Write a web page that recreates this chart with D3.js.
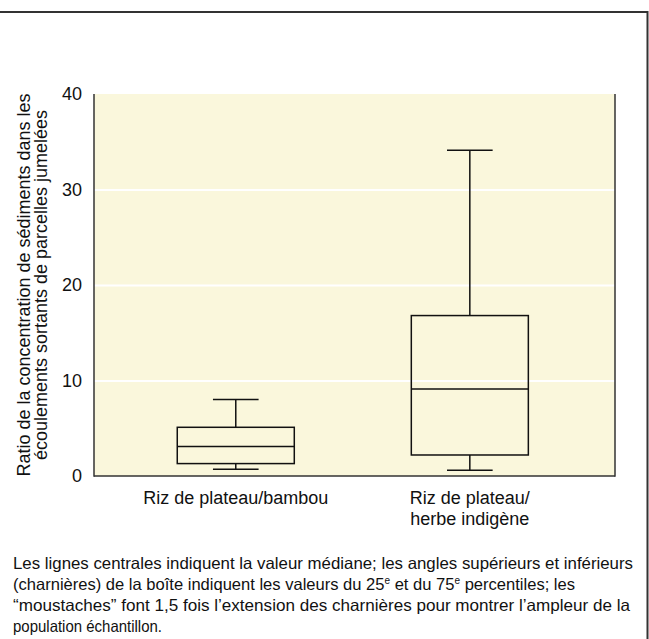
<!DOCTYPE html>
<html>
<head>
<meta charset="utf-8">
<script src="https://cdn.jsdelivr.net/npm/d3@7"></script>
<style>
  html, body { margin: 0; padding: 0; background: #fff; }
  svg { display: block; }
  text { font-family: "Liberation Sans", Arial, Helvetica, sans-serif; fill: #111; }
</style>
</head>
<body>
<svg id="chart" width="649" height="639"></svg>
<script>
// ---- data ----
const categories = ["Riz de plateau/bambou", "Riz de plateau/herbe indigène"];
const categoryLabelLines = [["Riz de plateau/bambou"], ["Riz de plateau/", "herbe indigène"]];
const whiskerLow  = [0.7, 0.6];
const q1          = [1.3, 2.2];
const median      = [3.1, 9.1];
const q3          = [5.1, 16.8];
const whiskerHigh = [8.0, 34.1];
const yTicks = [0, 10, 20, 30, 40];
const yLabelLines = ["Ratio de la concentration de sédiments dans les", "écoulements sortants de parcelles jumelées"];
const captionLines = [
  [["Les lignes centrales indiquent la valeur médiane; les angles supérieurs et inférieurs", false]],
  [["(charnières) de la boîte indiquent les valeurs du 25", false], ["e", true], [" et du 75", false], ["e", true], [" percentiles; les", false]],
  [["“moustaches” font 1,5 fois l’extension des charnières pour montrer l’ampleur de la", false]],
  [["population échantillon.", false]]
];

// ---- layout ----
const svg = d3.select("#chart");
const pLeft = 94, pRight = 615, pTop = 94, pBottom = 476;

const x = d3.scaleBand().domain(categories).range([pLeft, pRight]).paddingInner(0.5).paddingOuter(0.363).align(0.49);
const y = d3.scaleLinear().domain([0, 40]).range([pBottom, pTop]);

// frame
svg.append("line").attr("x1", 0).attr("x2", 648).attr("y1", 12).attr("y2", 12)
  .attr("stroke", "#333").attr("stroke-width", 2);
svg.append("line").attr("x1", 647.5).attr("x2", 647.5).attr("y1", 11).attr("y2", 639)
  .attr("stroke", "#333").attr("stroke-width", 2);

// plot background
svg.append("rect").attr("x", pLeft).attr("y", pTop).attr("width", pRight - pLeft).attr("height", pBottom - pTop)
  .attr("fill", "#faf7dc");

// gridlines
const grid = svg.append("g").attr("transform", `translate(${pLeft},0)`)
  .call(d3.axisLeft(y).tickValues(yTicks.filter(t => t > 0 && t < 40)).tickSize(-(pRight - pLeft)).tickFormat(""));
grid.select(".domain").remove();
grid.selectAll(".tick line").attr("stroke", "#fff").attr("stroke-width", 2);

// y tick labels
const yAx = svg.append("g").attr("transform", `translate(${pLeft},0)`)
  .call(d3.axisLeft(y).tickValues(yTicks).tickSize(0).tickPadding(12));
yAx.select(".domain").remove();
yAx.selectAll(".tick text").attr("font-size", 18).attr("font-family", "Liberation Sans, Arial, sans-serif").attr("fill", "#111");

// axis lines
svg.append("line").attr("x1", pLeft).attr("x2", pLeft).attr("y1", pTop).attr("y2", pBottom + 0.75)
  .attr("stroke", "#333").attr("stroke-width", 1.5);
svg.append("line").attr("x1", pRight).attr("x2", pRight).attr("y1", pTop).attr("y2", pBottom + 0.75)
  .attr("stroke", "#333").attr("stroke-width", 1.5);
svg.append("line").attr("x1", pLeft).attr("x2", pRight).attr("y1", pBottom).attr("y2", pBottom)
  .attr("stroke", "#333").attr("stroke-width", 1.5);

// boxes
const bw = x.bandwidth();
const capW = bw * 0.39;
categories.forEach((c, i) => {
  const cx = x(c) + bw / 2;
  const g = svg.append("g").attr("stroke", "#111").attr("stroke-width", 1.5).attr("fill", "none");
  g.append("line").attr("x1", cx).attr("x2", cx).attr("y1", y(whiskerHigh[i])).attr("y2", y(q3[i]));
  g.append("line").attr("x1", cx).attr("x2", cx).attr("y1", y(q1[i])).attr("y2", y(whiskerLow[i]));
  g.append("line").attr("x1", cx - capW / 2).attr("x2", cx + capW / 2).attr("y1", y(whiskerHigh[i])).attr("y2", y(whiskerHigh[i]));
  g.append("line").attr("x1", cx - capW / 2).attr("x2", cx + capW / 2).attr("y1", y(whiskerLow[i])).attr("y2", y(whiskerLow[i]));
  g.append("rect").attr("x", x(c)).attr("width", bw).attr("y", y(q3[i])).attr("height", y(q1[i]) - y(q3[i]));
  g.append("line").attr("x1", x(c)).attr("x2", x(c) + bw).attr("y1", y(median[i])).attr("y2", y(median[i]));
});

// x labels
const xAx = svg.append("g").attr("transform", `translate(0,${pBottom})`)
  .call(d3.axisBottom(x).tickSize(0).tickFormat(""));
xAx.select(".domain").remove();
xAx.selectAll(".tick").each(function(d, i) {
  const t = d3.select(this).append("text").attr("text-anchor", "middle").attr("font-size", 18).attr("fill", "#111");
  categoryLabelLines[i].forEach((ln, j) => {
    t.append("tspan").attr("x", 0).attr("y", 28 + j * 21).text(ln);
  });
});

// y label
const yl = svg.append("text").attr("transform", `translate(0,${(pTop + pBottom) / 2}) rotate(-90)`)
  .attr("text-anchor", "middle").attr("font-size", 18);
yLabelLines.forEach((ln, j) => {
  yl.append("tspan").attr("x", 0).attr("y", 30 + j * 17).text(ln);
});

// caption
const capWidths = [620, 562, 617, 149];
captionLines.forEach((parts, i) => {
  const t = svg.append("text").attr("x", 13).attr("y", 569 + i * 21).attr("font-size", 16.5)
    .attr("textLength", capWidths[i]).attr("lengthAdjust", "spacingAndGlyphs");
  parts.forEach(([s, sup], k) => {
    const ts = t.append("tspan").text(s);
    const prevSup = k > 0 && parts[k - 1][1];
    if (sup) ts.attr("font-size", 10).attr("dy", -6);
    else if (prevSup) ts.attr("dy", 6);
  });
});
</script>
</body>
</html>
